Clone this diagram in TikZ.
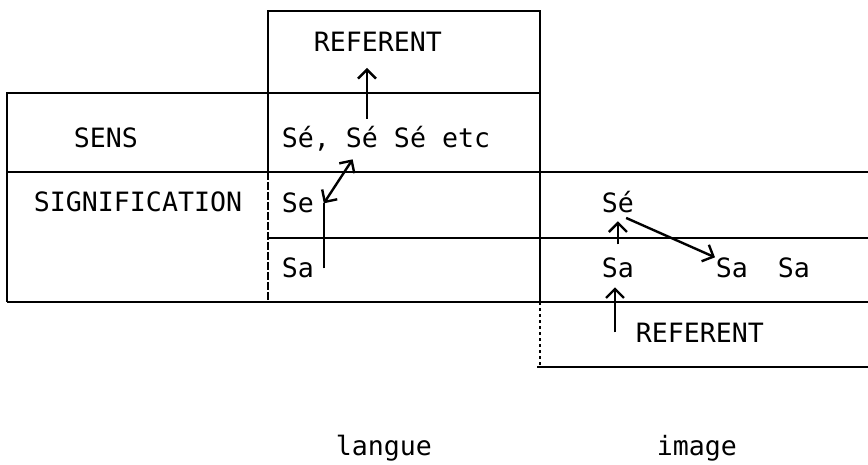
\documentclass[tikz,border=0pt]{standalone}
\usepackage{fontspec}
\setmainfont{DejaVu Sans Mono}
\usetikzlibrary{arrows.meta}
\tikzset{
  lbl/.style={anchor=base west, inner sep=0pt},
  >={Straight Barb[length=9pt,width=18pt]}
}
\begin{document}
\begin{tikzpicture}[x=1pt, y=-1pt, line width=1.8pt, font=\fontsize{26.6}{30}\selectfont]
  \useasboundingbox (0,0) rectangle (868,465);
  \draw (268,172) -- (268,11) -- (540,11) -- (540,302);
  \draw[dash pattern=on 8pt off 2pt] (268,172) -- (268,302);
  \draw (7,302) -- (7,93) -- (540,93);
  \draw (7,172) -- (868,172);
  \draw (268,238) -- (868,238);
  \draw (7,302) -- (868,302);
  \draw[dash pattern=on 3pt off 3pt] (540,302) -- (540,367);
  \draw (537,367) -- (868,367);
  \draw
    (313,52) node[lbl] (refA){REFERENT}
    (73,148) node[lbl] (sens){SENS}
    (281,148) node[lbl] (semes){Sé, Sé Sé etc}
    (33,212) node[lbl] (signif){SIGNIFICATION}
    (281,213) node[lbl] (se){Se}
    (281,278) node[lbl] (sa){Sa}
    (601,213) node[lbl] (seB){Sé}
    (601,278) node[lbl] (saB){Sa}
    (715,278) node[lbl] (saC){Sa}
    (777,278) node[lbl] (saD){Sa}
    (635,342) node[lbl] (refB){REFERENT}
    (335,455) node[lbl] (langue){langue}
    (656,455) node[lbl] (image){image};
  \begin{scope}[line width=2.4pt]
    \draw[->, shorten <=7pt, shorten >=15pt] ([xshift=86pt]semes.north west) -- ([xshift=86pt]semes.north west |- refA.south);
    \draw ([xshift=9pt]sa.east) -- ([xshift=9pt]se.east);
    \draw[<->, shorten >=8pt] ([xshift=9pt]se.east) -- ([xshift=76pt]semes.south west);
    \draw[->, shorten <=13pt, shorten >=7pt] (saB.north) -- (seB.south);
    \draw[->, shorten <=9pt] (seB.south) -- (saC.north west);
    \draw[->, shorten >=8pt] ([xshift=-20pt]refB.west) -- ([xshift=-20pt]refB.west |- saB.south);
  \end{scope}
\end{tikzpicture}
\end{document}
